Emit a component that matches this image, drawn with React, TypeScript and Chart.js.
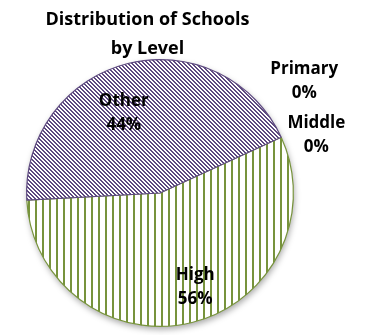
import React, { useEffect, useRef } from "react";
import { Chart, registerables } from "chart.js";

Chart.register(...registerables);

const categories = ["Primary", "Middle", "High", "Other"];
const values = [0, 0, 56, 44];
const percentLabels = ["0%", "0%", "56%", "44%"];
const titleLines = ["Distribution of Schools", "by Level"];

const PURPLE = "#5E4A80";
const GREEN = "#77933C";

function makeVerticalStripes(): CanvasPattern | string {
  const c = document.createElement("canvas");
  c.width = 7;
  c.height = 4;
  const g = c.getContext("2d");
  if (!g) return GREEN;
  g.fillStyle = "#ffffff";
  g.fillRect(0, 0, 7, 4);
  g.fillStyle = GREEN;
  g.fillRect(0, 0, 2, 4);
  return g.createPattern(c, "repeat") || GREEN;
}

function makeDiagonalDashes(): CanvasPattern | string {
  const n = 4;
  const c = document.createElement("canvas");
  c.width = n;
  c.height = n;
  const g = c.getContext("2d");
  if (!g) return PURPLE;
  g.fillStyle = "#ffffff";
  g.fillRect(0, 0, n, n);
  g.fillStyle = PURPLE;
  for (let i = 0; i < n; i++) {
    g.fillRect(i, i, 1, 1);
    g.fillRect((i + 1) % n, i, 1, 1);
  }
  return g.createPattern(c, "repeat") || PURPLE;
}

// label placement: angle offset (deg) from reference angle and radius factor
const labelPlacement = [
  { ref: "start", dAng: -13.5, rf: 1.376 },
  { ref: "start", dAng: 4.0, rf: 1.253 },
  { ref: "mid", dAng: -7.0, rf: 0.74 },
  { ref: "mid", dAng: -10.0, rf: 0.67 },
];

const FONT_FAMILY = "'Open Sans', 'Noto Sans', sans-serif";

const shadowPlugin = {
  id: "pieShadow",
  beforeDatasetsDraw(chart: any) {
    const meta = chart.getDatasetMeta(0);
    const arc = meta.data[0];
    if (!arc) return;
    const { x, y, outerRadius } = arc.getProps(["x", "y", "outerRadius"], true);
    const ctx = chart.ctx;
    ctx.save();
    ctx.shadowColor = "rgba(0,0,0,0.35)";
    ctx.shadowBlur = 6;
    ctx.shadowOffsetX = 1;
    ctx.shadowOffsetY = 3;
    ctx.fillStyle = "#ffffff";
    ctx.beginPath();
    ctx.arc(x, y, outerRadius, 0, Math.PI * 2);
    ctx.fill();
    ctx.restore();
  },
};

const labelPlugin = {
  id: "pieLabels",
  afterDatasetsDraw(chart: any) {
    const ctx = chart.ctx;
    const meta = chart.getDatasetMeta(0);
    ctx.save();
    ctx.fillStyle = "#000000";
    ctx.textAlign = "center";
    ctx.textBaseline = "alphabetic";
    ctx.font = `bold 17px ${FONT_FAMILY}`;
    meta.data.forEach((arc: any, i: number) => {
      const p = arc.getProps(["x", "y", "startAngle", "endAngle", "outerRadius"], true);
      const pl = labelPlacement[i];
      const base = pl.ref === "start" ? p.startAngle : (p.startAngle + p.endAngle) / 2;
      const a = base + (pl.dAng * Math.PI) / 180;
      const cx = p.x + Math.cos(a) * p.outerRadius * pl.rf;
      const cy = p.y + Math.sin(a) * p.outerRadius * pl.rf;
      ctx.fillText(categories[i], cx, cy - 5.5);
      ctx.fillText(percentLabels[i], cx, cy + 18.5);
    });
    // title
    ctx.font = `bold 18px ${FONT_FAMILY}`;
    const tx = 147.5;
    ctx.fillText(titleLines[0], tx, 25);
    ctx.fillText(titleLines[1], tx, 54);
    ctx.restore();
  },
};

export default function App() {
  const ref = useRef<HTMLCanvasElement | null>(null);
  useEffect(() => {
    const canvas = ref.current;
    if (!canvas) return;
    const chart = new Chart(canvas, {
      type: "pie",
      data: {
        labels: categories,
        datasets: [
          {
            data: values,
            backgroundColor: [PURPLE, GREEN, makeVerticalStripes(), makeDiagonalDashes()],
            borderColor: [PURPLE, GREEN, GREEN, PURPLE],
            borderWidth: 1.2,
            hoverOffset: 0,
          } as any,
        ],
      },
      options: {
        responsive: false,
        animation: false,
        rotation: 65.3,
        layout: { padding: { top: 59, bottom: 8, left: 25, right: 75 } },
        plugins: {
          legend: { display: false },
          title: { display: false },
          tooltip: { enabled: false },
        },
      },
      plugins: [shadowPlugin, labelPlugin],
    });
    return () => chart.destroy();
  }, []);
  return (
    <div style={{ position: "fixed", left: 0, top: 0, width: 370, height: 335, background: "#ffffff" }}>
      <canvas ref={ref} width={370} height={335} style={{ display: "block" }} />
    </div>
  );
}
